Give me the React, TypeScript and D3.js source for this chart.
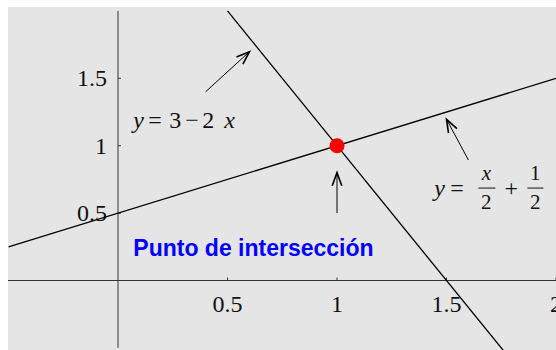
import React from 'react';
import * as d3 from 'd3';

// tick values and labels
const xTicks = [0.5, 1, 1.5, 2];
const xTickLabels = ['0.5', '1', '1.5', '2'];
const yTicks = [0.5, 1, 1.5];
const yTickLabels = ['0.5', '1', '1.5'];

// y = 3 - 2x, endpoints
const lineAX = [0.5, 1.76];
const lineAY = [2, -0.52];
// y = x/2 + 1/2
const lineBX = [-0.5, 2];
const lineBY = [0.25, 1.5];

// intersection point
const pointX = [1];
const pointY = [1];

// annotation arrows (tail -> head)
const arrowTail = [[0.4, 1.4], [1.6, 0.894], [1, 0.5]];
const arrowHead = [[0.6, 1.697], [1.5, 1.196], [1, 0.8]];

// label anchors (data coords)
const labelA = [0.07, 1.13];
const labelB = [1.44, 0.63];
const labelPoint = [0.07, 0.18];
const pointText = 'Punto de intersección';

const W = 556;
const H = 350;

const serif = '"Liberation Serif", "DejaVu Serif", serif';
const sans = '"Liberation Sans", Arial, sans-serif';

const App = () => {
  const x = d3.scaleLinear().domain([-0.5, 2]).range([8.5, 556]);
  const y = d3.scaleLinear().domain([-0.5, 2]).range([347.9, 10.9]);

  const seg = (xs: number[], ys: number[]) =>
    d3.line<[number, number]>().x(d => x(d[0])).y(d => y(d[1]))(xs.map((v, i) => [v, ys[i]]) as [number, number][]) || '';

  const arrowPaths = arrowTail.map((t, i) => {
    const h = arrowHead[i];
    const x0 = x(t[0]), y0 = y(t[1]);
    const x1 = x(h[0]), y1 = y(h[1]);
    const ang = Math.atan2(y0 - y1, x0 - x1);
    const len = 14;
    const spread = (20 * Math.PI) / 180;
    const b1 = [x1 + len * Math.cos(ang + spread), y1 + len * Math.sin(ang + spread)];
    const b2 = [x1 + len * Math.cos(ang - spread), y1 + len * Math.sin(ang - spread)];
    return {
      shaft: `M${x0},${y0}L${x1},${y1}`,
      head: `M${b1[0]},${b1[1]}L${x1},${y1}L${b2[0]},${b2[1]}`,
    };
  });

  const ax = x(labelA[0]);
  const ay = y(labelA[1]);
  const bx = x(labelB[0]);
  const by = y(labelB[1]);

  return (
    <svg width={W} height={H} style={{ position: 'absolute', left: 0, top: 0 }}>
      <rect x={8} y={7} width={W - 8} height={H - 7} fill="#e5e5e5" />

      {/* axes */}
      <line x1={8} x2={W} y1={y(0)} y2={y(0)} stroke="#333" strokeWidth={1} />
      <line x1={x(0)} x2={x(0)} y1={y(2)} y2={y(-0.5)} stroke="#333" strokeWidth={1} />

      {xTicks.map((t, i) => (
        <g key={'xt' + i}>
          <line x1={x(t)} x2={x(t)} y1={y(0)} y2={y(0) - 3} stroke="#333" />
          <text x={x(t)} y={312} textAnchor="middle" fontFamily={serif} fontSize={24} fill="#111">
            {xTickLabels[i]}
          </text>
        </g>
      ))}
      {yTicks.map((t, i) => (
        <g key={'yt' + i}>
          <line x1={x(0)} x2={x(0) + 3} y1={y(t)} y2={y(t)} stroke="#333" />
          <text x={107} y={y(t) + 8} textAnchor="end" fontFamily={serif} fontSize={24} fill="#111">
            {yTickLabels[i]}
          </text>
        </g>
      ))}

      {/* lines */}
      <path d={seg(lineAX, lineAY)} stroke="#000" strokeWidth={1.3} fill="none" />
      <path d={seg(lineBX, lineBY)} stroke="#000" strokeWidth={1.3} fill="none" />

      {/* arrows */}
      {arrowPaths.map((a, i) => (
        <g key={'ar' + i} fill="none" stroke="#000">
          <path d={a.shaft} strokeWidth={1} />
          <path d={a.head} strokeWidth={1.6} />
        </g>
      ))}

      {pointX.map((p, i) => (
        <circle key={'pt' + i} cx={x(p)} cy={y(pointY[i])} r={7.5} fill="#ff0000" />
      ))}

      {/* y = 3 - 2x */}
      <g fontFamily={serif} fontSize={24} fill="#111">
        <text x={ax} y={ay} fontStyle="italic">y</text>
        <text x={ax + 15} y={ay}>=</text>
        <text x={ax + 36} y={ay}>3</text>
        <text x={ax + 52} y={ay}>−</text>
        <text x={ax + 69} y={ay}>2</text>
        <text x={ax + 91} y={ay} fontStyle="italic">x</text>
      </g>

      {/* y = x/2 + 1/2 */}
      <g fontFamily={serif} fontSize={24} fill="#111">
        <text x={bx + 1} y={by} fontStyle="italic">y</text>
        <text x={bx + 17} y={by}>=</text>
        <text x={bx + 53} y={by - 15.5} textAnchor="middle" fontStyle="italic" fontSize={21}>x</text>
        <line x1={bx + 45} x2={bx + 62} y1={by - 7.5} y2={by - 7.5} stroke="#111" strokeWidth={1} />
        <text x={bx + 53} y={by + 13.5} textAnchor="middle" fontSize={21}>2</text>
        <text x={bx + 78} y={by} textAnchor="middle">+</text>
        <text x={bx + 102} y={by - 15.5} textAnchor="middle" fontSize={21}>1</text>
        <line x1={bx + 94} x2={bx + 110} y1={by - 7.5} y2={by - 7.5} stroke="#111" strokeWidth={1} />
        <text x={bx + 102} y={by + 13.5} textAnchor="middle" fontSize={21}>2</text>
      </g>

      <text x={x(labelPoint[0])} y={y(labelPoint[1])} fontFamily={sans} fontWeight="bold" fontSize={23} fill="#0000ff">
        {pointText}
      </text>
    </svg>
  );
};

export default App;
